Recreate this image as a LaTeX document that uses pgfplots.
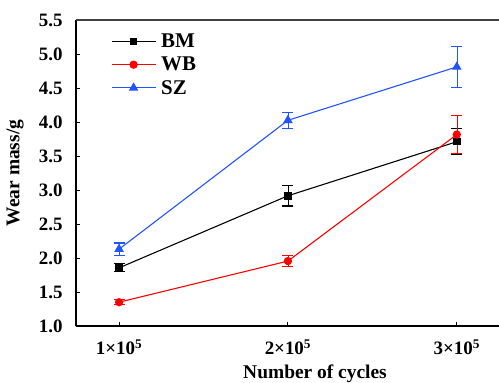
\documentclass[border=0pt]{standalone}
\usepackage{fontspec}
\setmainfont{Liberation Serif}
\usepackage{pgfplots}
\pgfplotsset{compat=1.18}
\definecolor{szblue}{rgb}{0.13,0.33,1}
\begin{document}
\begin{tikzpicture}
\begin{axis}[
  name=ax,
  scale only axis,
  width=423bp, height=306bp,
  xmin=0.745, xmax=3.25,
  ymin=1, ymax=5.5,
  axis lines*=left,
  axis line style={line width=1.1pt},
  tick align=inside,
  major tick length=4bp,
  tick style={black, line width=0.9pt},
  xtick={1,2,3},
  xticklabels={1×10\textsuperscript{5},2×10\textsuperscript{5},3×10\textsuperscript{5}},
  ytick={1,1.5,...,5.5},
  /pgf/number format/assume math mode=true,
  yticklabel={\pgfmathprintnumber[fixed,fixed zerofill,precision=1]{\tick}},
  tick label style={font=\fontsize{19}{22}\selectfont\bfseries},
  xticklabel style={yshift=-10bp},
  yticklabel style={xshift=-10bp},
  xlabel={Number of cycles},
  ylabel={Wear mass/g},
  xlabel style={at={(axis description cs:0.565,-0.157)}, anchor=center, font=\fontsize{19.5}{22}\selectfont\bfseries},
  ylabel style={at={(axis description cs:-0.144,0.5)}, anchor=center, rotate=0, font=\fontsize{19.5}{22}\selectfont\bfseries},
  legend style={draw=none, fill=none, at={(rel axis cs:0.08,0.965)}, anchor=north west,
    font=\fontsize{21}{23}\selectfont\bfseries, row sep=4bp, column sep=3bp, inner sep=1bp,
    legend cell align=left},
  legend image code/.code={\draw[mark repeat=2,mark phase=2,#1] plot coordinates {(0bp,0bp) (22bp,0bp) (44bp,0bp)};},
  every axis plot/.append style={line width=1.1pt},
  error bars/error mark options={rotate=90, mark size=5.5bp, line width=1.1pt},
]
\addplot[black, mark=square*, mark size=3.2pt, mark options={solid},
  error bars/.cd, y dir=both, y explicit]
  coordinates {(1,1.855) +- (0,0.06) (2,2.915) +- (0,0.15) (3,3.71) +- (0,0.19)};
\addlegendentry{BM}
\addplot[red, mark=*, mark size=3.6pt,
  error bars/.cd, y dir=both, y explicit]
  coordinates {(1,1.35) +- (0,0.04) (2,1.955) +- (0,0.085) (3,3.815) +- (0,0.28)};
\addlegendentry{WB}
\addplot[szblue, mark=triangle*, mark size=4.5pt,
  error bars/.cd, y dir=both, y explicit]
  coordinates {(1,2.13) +- (0,0.09) (2,4.025) +- (0,0.12) (3,4.81) +- (0,0.305)};
\addlegendentry{SZ}
\end{axis}
\draw[line width=1.1pt, black!75] (ax.north west) -- (ax.north east);
\pgfresetboundingbox
\path[use as bounding box] (-76bp,-57bp) rectangle (423bp,326bp);
\end{tikzpicture}
\end{document}
